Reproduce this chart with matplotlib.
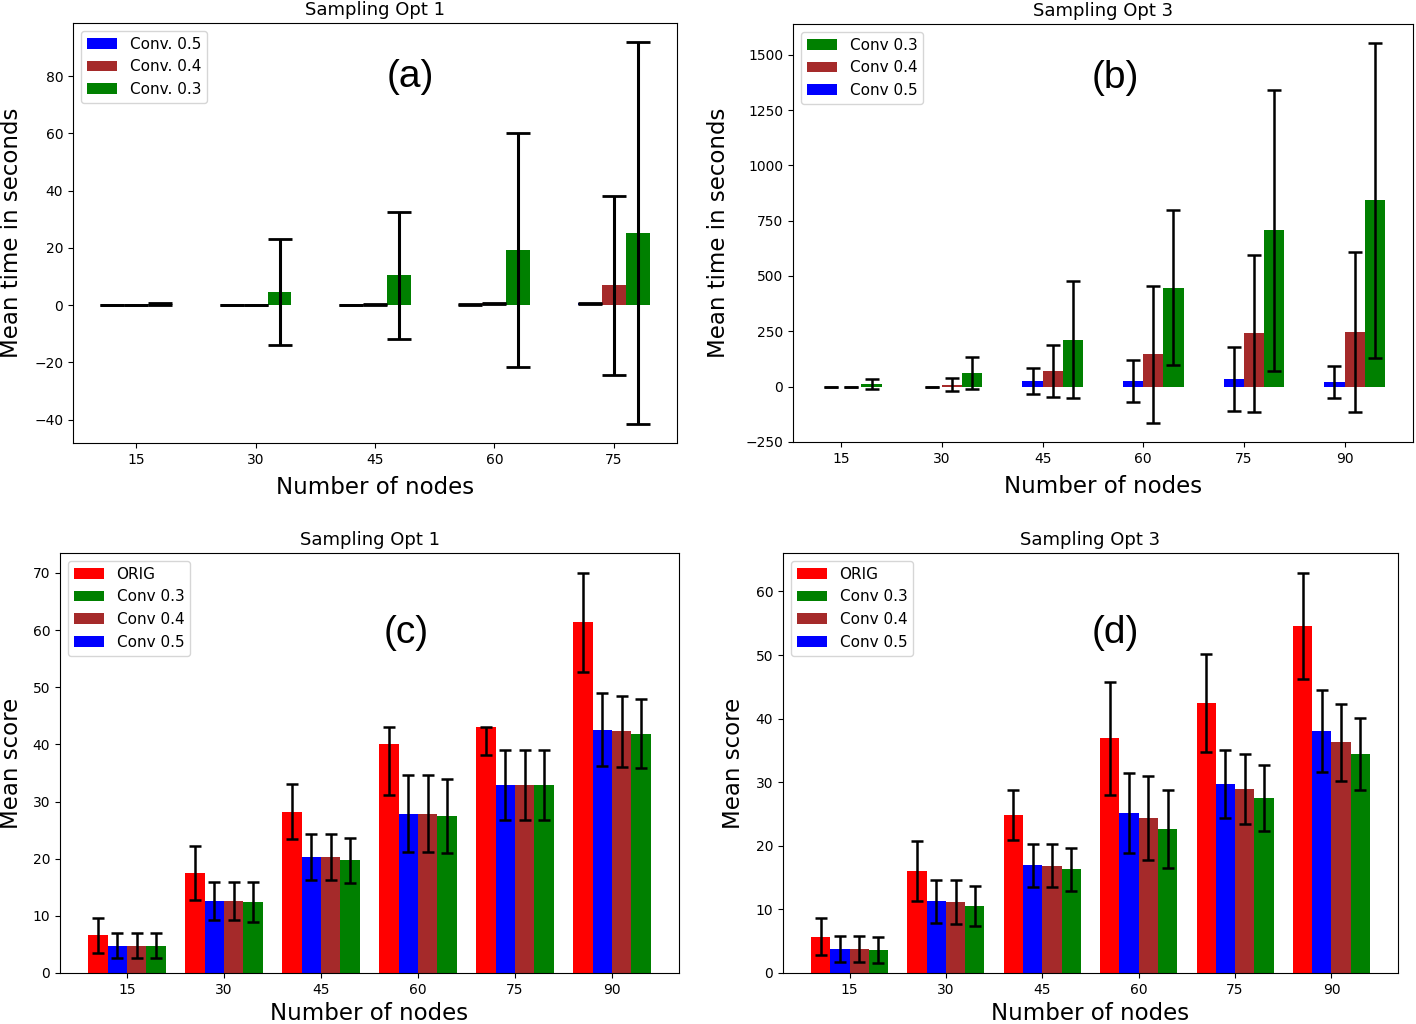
import numpy as np
import matplotlib
matplotlib.use("Agg")
import matplotlib.pyplot as plt

# number of nodes on the x axis
nodes_a = [15, 30, 45, 60, 75]
nodes = [15, 30, 45, 60, 75, 90]

# (a) mean time, sampling opt 1
time1_conv05 = [0.05, 0.1, 0.15, 0.2, 0.7]
time1_conv05_std = [0.0, 0.0, 0.0, 0.1, 0.2]
time1_conv04 = [0.1, 0.15, 0.3, 0.6, 7.0]
time1_conv04_std = [0.0, 0.05, 0.1, 0.1, 31.3]
time1_conv03 = [0.3, 4.5, 10.5, 19.3, 25.2]
time1_conv03_std = [0.3, 18.6, 22.2, 40.8, 66.7]

# (b) mean time, sampling opt 3
time3_conv05 = [0, 0, 25, 25, 34, 19]
time3_conv05_std = [0, 0, 61, 97, 146, 73]
time3_conv04 = [0, 8, 71, 145, 240, 247]
time3_conv04_std = [0, 30, 119, 310, 353, 360]
time3_conv03 = [10, 60, 212, 447, 707, 842]
time3_conv03_std = [22, 73, 266, 350, 636, 712]

# (c) mean score, sampling opt 1
score1_orig = [6.6, 17.5, 28.2, 40.0, 43.0, 61.4]
score1_orig_lo = [3.1, 4.7, 4.7, 8.8, 4.9, 8.7]
score1_orig_hi = [3.1, 4.8, 4.8, 3.0, 0.0, 8.6]
score1_conv05 = [4.8, 12.6, 20.3, 27.9, 32.9, 42.6]
score1_conv05_std = [2.25, 3.3, 3.95, 6.8, 6.2, 6.4]
score1_conv04 = [4.8, 12.6, 20.3, 27.9, 32.9, 42.3]
score1_conv04_std = [2.25, 3.3, 3.95, 6.8, 6.2, 6.25]
score1_conv03 = [4.8, 12.4, 19.7, 27.5, 32.9, 41.9]
score1_conv03_std = [2.25, 3.5, 3.9, 6.5, 6.2, 6.1]

# (d) mean score, sampling opt 3
score3_orig = [5.7, 16.0, 24.8, 36.9, 42.4, 54.6]
score3_orig_std = [2.9, 4.7, 3.9, 8.9, 7.7, 8.3]
score3_conv05 = [3.8, 11.3, 16.95, 25.15, 29.7, 38.1]
score3_conv05_std = [2.05, 3.4, 3.4, 6.3, 5.4, 6.45]
score3_conv04 = [3.8, 11.1, 16.9, 24.3, 28.9, 36.3]
score3_conv04_std = [2.05, 3.45, 3.4, 6.6, 5.5, 6.05]
score3_conv03 = [3.6, 10.55, 16.3, 22.6, 27.55, 34.4]
score3_conv03_std = [2.0, 3.15, 3.4, 6.15, 5.2, 5.7]

W, H = 1416, 1024
WIDTH = 0.2
ERR = dict(ecolor="black", elinewidth=1.8, capthick=1.8)


def px_axes(fig, left, top, right, bottom):
    return fig.add_axes([left / W, 1 - bottom / H, (right - left) / W, (bottom - top) / H])


def finish(ax, ticks, labels, title, ylabel, tag, tag_xy, ypad=8, xpad=7):
    ax.set_xticks(ticks)
    ax.set_xticklabels(labels)
    ax.set_title(title, fontsize=13)
    ax.set_xlabel("Number of nodes", fontsize=16.5, labelpad=xpad)
    ax.set_ylabel(ylabel, fontsize=16.5, labelpad=ypad)
    ax.text(tag_xy[0], tag_xy[1], tag, transform=ax.transAxes, ha="center",
            va="center", fontsize=28, family="Liberation Sans")


def plot_all():
    fig = plt.figure(figsize=(W / 100, H / 100), dpi=100)

    # (a)
    ax = px_axes(fig, 73, 23, 677, 443)
    ind = np.arange(len(nodes_a))
    err_a = dict(ERR, elinewidth=2.2, capthick=2)
    b1 = ax.bar(ind - WIDTH, time1_conv05, WIDTH, color="blue", yerr=time1_conv05_std,
                capsize=8.5, error_kw=err_a, label="Conv. 0.5")
    b2 = ax.bar(ind, time1_conv04, WIDTH, color="brown", yerr=time1_conv04_std,
                capsize=8.5, error_kw=err_a, label="Conv. 0.4")
    b3 = ax.bar(ind + WIDTH, time1_conv03, WIDTH, color="green", yerr=time1_conv03_std,
                capsize=8.5, error_kw=err_a, label="Conv. 0.3")
    ax.legend(handles=[b1, b2, b3], loc="upper left", fontsize=11)
    finish(ax, ind, nodes_a, "Sampling Opt 1", "Mean time in seconds", "(a)", (0.558, 0.871))

    # (b)
    ax = px_axes(fig, 793, 24, 1413, 442)
    ind = np.arange(len(nodes))
    b1 = ax.bar(ind - WIDTH, time3_conv05, WIDTH, align="edge", color="blue",
                yerr=time3_conv05_std, capsize=4.7, error_kw=ERR, label="Conv 0.5")
    b2 = ax.bar(ind, time3_conv04, WIDTH, align="edge", color="brown",
                yerr=time3_conv04_std, capsize=4.7, error_kw=ERR, label="Conv 0.4")
    b3 = ax.bar(ind + WIDTH, time3_conv03, WIDTH, align="edge", color="green",
                yerr=time3_conv03_std, capsize=4.7, error_kw=ERR, label="Conv 0.3")
    ax.legend(handles=[b3, b2, b1], loc="upper left", fontsize=11)
    finish(ax, ind, nodes, "Sampling Opt 3", "Mean time in seconds", "(b)", (0.52, 0.871),
           ypad=11)

    # (c)
    ax = px_axes(fig, 60, 553, 679, 973)
    b0 = ax.bar(ind - 1.5 * WIDTH, score1_orig, WIDTH, color="red",
                yerr=[score1_orig_lo, score1_orig_hi], capsize=4.5, error_kw=ERR, label="ORIG")
    b1 = ax.bar(ind - 0.5 * WIDTH, score1_conv05, WIDTH, color="blue",
                yerr=score1_conv05_std, capsize=4.5, error_kw=ERR, label="Conv 0.5")
    b2 = ax.bar(ind + 0.5 * WIDTH, score1_conv04, WIDTH, color="brown",
                yerr=score1_conv04_std, capsize=4.5, error_kw=ERR, label="Conv 0.4")
    b3 = ax.bar(ind + 1.5 * WIDTH, score1_conv03, WIDTH, color="green",
                yerr=score1_conv03_std, capsize=4.5, error_kw=ERR, label="Conv 0.3")
    ax.legend(handles=[b0, b3, b2, b1], loc="upper left", fontsize=11)
    finish(ax, ind, nodes, "Sampling Opt 1", "Mean score", "(c)", (0.559, 0.81),
           ypad=7, xpad=4)

    # (d)
    ax = px_axes(fig, 783, 553, 1398, 973)
    b0 = ax.bar(ind - 1.5 * WIDTH, score3_orig, WIDTH, color="red",
                yerr=score3_orig_std, capsize=4.5, error_kw=ERR, label="ORIG")
    b1 = ax.bar(ind - 0.5 * WIDTH, score3_conv05, WIDTH, color="blue",
                yerr=score3_conv05_std, capsize=4.5, error_kw=ERR, label="Conv 0.5")
    b2 = ax.bar(ind + 0.5 * WIDTH, score3_conv04, WIDTH, color="brown",
                yerr=score3_conv04_std, capsize=4.5, error_kw=ERR, label="Conv 0.4")
    b3 = ax.bar(ind + 1.5 * WIDTH, score3_conv03, WIDTH, color="green",
                yerr=score3_conv03_std, capsize=4.5, error_kw=ERR, label="Conv 0.3")
    ax.legend(handles=[b0, b3, b2, b1], loc="upper left", fontsize=11)
    finish(ax, ind, nodes, "Sampling Opt 3", "Mean score", "(d)", (0.54, 0.81),
           ypad=8, xpad=4)

    fig.savefig("out.png", dpi=100)


if __name__ == "__main__":
    plot_all()
